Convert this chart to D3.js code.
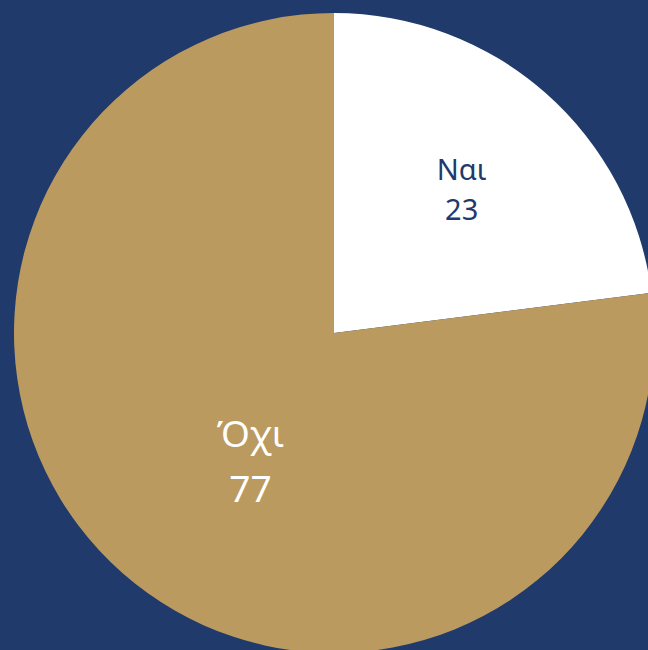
<!DOCTYPE html>
<html>
<head>
<meta charset="utf-8">
<script src="https://cdn.jsdelivr.net/npm/d3@7"></script>
<style>
  html, body { margin: 0; padding: 0; background: #1f3a6b; overflow: hidden; }
  svg { display: block; }
</style>
</head>
<body>
<svg id="chart" width="648" height="650"></svg>
<script>
const categories = ['Ναι', 'Όχι'];
const values = [23, 77];
const colors = ['#ffffff', '#bb9a5f'];
const labelColors = ['#1f3a6b', '#ffffff'];

const width = 648, height = 650;
const cx = 334, cy = 333, radius = 320;

const svg = d3.select('#chart');
svg.append('rect').attr('width', width).attr('height', height).attr('fill', '#1f3a6b');

const g = svg.append('g').attr('transform', `translate(${cx},${cy})`);

const pie = d3.pie().sort(null).value(d => d.value);
const data = pie(categories.map((c, i) => ({ name: c, value: values[i], i })));

const arc = d3.arc().innerRadius(0).outerRadius(radius);

g.selectAll('path.slice')
  .data(data)
  .enter()
  .append('path')
  .classed('slice', true)
  .attr('d', arc)
  .attr('fill', d => colors[d.data.i]);

// label radius/size differ per slice (big slice gets bigger text)
const labelR = [193, 152];
const fontSize = [29, 37];
const lineGap = [40, 55];

const labels = g.selectAll('g.label')
  .data(data)
  .enter()
  .append('g')
  .classed('label', true)
  .attr('transform', d => {
    const a = (d.startAngle + d.endAngle) / 2 - (d.data.i === 1 ? 0.14 : 0);
    const r = labelR[d.data.i];
    return `translate(${r * Math.sin(a)},${-r * Math.cos(a)})`;
  })
  .style('font-family', '"Noto Sans", "Open Sans", sans-serif')
  .attr('fill', d => labelColors[d.data.i])
  .attr('text-anchor', 'middle');

labels.append('text')
  .attr('y', d => -lineGap[d.data.i] / 2)
  .attr('dominant-baseline', 'central')
  .style('font-size', d => fontSize[d.data.i] + 'px')
  .text(d => d.data.name);

labels.append('text')
  .attr('y', d => lineGap[d.data.i] / 2)
  .attr('dominant-baseline', 'central')
  .style('font-size', d => fontSize[d.data.i] + 'px')
  .text(d => d.data.value);
</script>
</body>
</html>
